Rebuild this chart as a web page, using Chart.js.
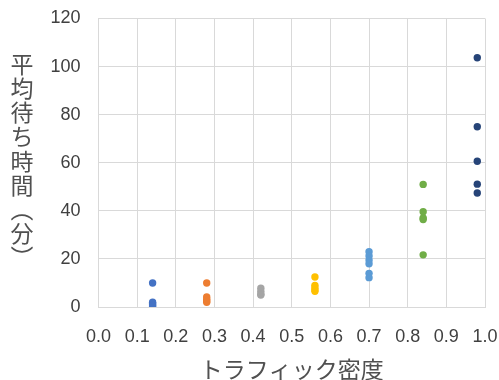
<!DOCTYPE html>
<html>
<head>
<meta charset="utf-8">
<script src="https://cdn.jsdelivr.net/npm/chart.js@4/dist/chart.umd.min.js"></script>
<style>
  html, body { margin: 0; padding: 0; background: #ffffff; }
  canvas { display: block; }
</style>
</head>
<body>
<canvas id="chart" width="499" height="380"></canvas>
<script>
// Traffic density levels (x) and the observed average waiting times (minutes) at each level
const densityLevels = [0.14, 0.28, 0.42, 0.56, 0.70, 0.84, 0.98];
const waitAt014 = [10, 2, 1.5, 0.8, 0.3];
const waitAt028 = [10, 4.2, 3.2, 2.5, 2];
const waitAt042 = [7.8, 6.5, 5.3, 5];
const waitAt056 = [12.5, 9, 8, 7.2, 6.5];
const waitAt070 = [23, 21.2, 19.5, 18, 14, 12.2];
const waitAt084 = [51, 39.6, 37, 36.4, 21.7];
const waitAt098 = [103.7, 75, 60.6, 51.1, 47.4];
const waitGroups = [waitAt014, waitAt028, waitAt042, waitAt056, waitAt070, waitAt084, waitAt098];

const xTitle = 'トラフィック密度';
const yTitle = '平均待ち時間︵分︶';

const seriesColors = ['#4472C4', '#ED7D31', '#A5A5A5', '#FFC000', '#5B9BD5', '#70AD47', '#264478'];
const gridColor = '#d9d9d9';
const textColor = '#404040';
const titleColor = '#505050';
const latinFont = "'Liberation Sans', Arial, sans-serif";
const cjkFont = "'Noto Sans CJK JP', 'Noto Sans', sans-serif";

const datasets = densityLevels.map((d, i) => ({
  label: String(d),
  data: waitGroups[i].map(v => ({ x: d, y: v })),
  backgroundColor: seriesColors[i],
  borderColor: seriesColors[i],
  borderWidth: 0,
  pointRadius: 3.7,
  pointHoverRadius: 3.7
}));

// Vertical (top-to-bottom) y-axis title, one upright character per step
const verticalTitle = {
  id: 'verticalTitle',
  afterDraw(chart) {
    const ctx = chart.ctx;
    ctx.save();
    ctx.font = "23px " + cjkFont;
    ctx.fillStyle = titleColor;
    ctx.textAlign = 'center';
    ctx.textBaseline = 'middle';
    const chars = Array.from(yTitle);
    const step = 24.2;
    const startY = 64;
    chars.forEach((c, k) => ctx.fillText(c, 22, startY + k * step));
    ctx.restore();
  }
};

new Chart(document.getElementById('chart'), {
  type: 'scatter',
  data: { datasets },
  plugins: [verticalTitle],
  options: {
    responsive: false,
    animation: false,
    layout: { padding: { top: 18.5, right: 14, left: 0, bottom: 0 } },
    plugins: {
      legend: { display: false },
      tooltip: { enabled: false }
    },
    scales: {
      x: {
        type: 'linear',
        min: 0,
        max: 1,
        afterFit(scale) { scale.height = 73; },
        ticks: {
          stepSize: 0.1,
          padding: 0,
          color: textColor,
          font: { family: latinFont, size: 18 },
          maxRotation: 0,
          callback: v => Number(v).toFixed(1)
        },
        grid: { color: gridColor, lineWidth: 1, drawTicks: true, tickLength: 19, tickColor: 'rgba(0,0,0,0)' },
        border: { color: gridColor, width: 1 },
        title: {
          display: true,
          text: xTitle,
          color: titleColor,
          font: { family: cjkFont, size: 23, lineHeight: 1 },
          padding: { top: 0, bottom: -1 }
        }
      },
      y: {
        type: 'linear',
        min: 0,
        max: 120,
        afterFit(scale) { scale.width = 98.5; },
        ticks: {
          stepSize: 20,
          padding: 0,
          color: textColor,
          font: { family: latinFont, size: 18 }
        },
        grid: { color: gridColor, lineWidth: 1, drawTicks: true, tickLength: 18, tickColor: 'rgba(0,0,0,0)' },
        border: { color: gridColor, width: 1 }
      }
    }
  }
});
</script>
</body>
</html>
